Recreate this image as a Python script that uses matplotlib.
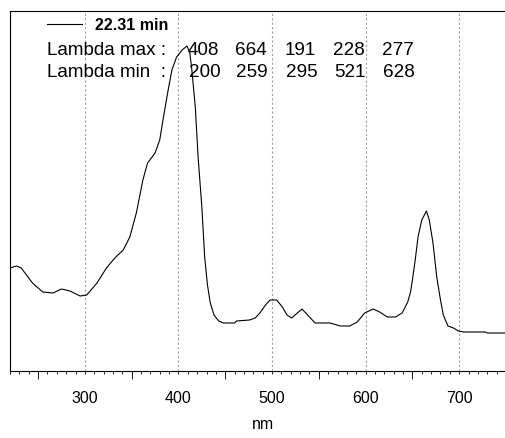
"""UV-Vis spectrum of the 22.31 min peak, drawn in the style of a DAD report."""
import matplotlib

matplotlib.use("Agg")
import matplotlib.pyplot as plt
import numpy as np

plt.rcParams["font.family"] = ["Liberation Sans", "DejaVu Sans"]

# spectrum (absorbance in arbitrary units)
wavelength = [220, 227, 232, 244, 255, 266, 275, 284, 295, 302, 313, 323, 332, 341, 348,
              355, 362, 367, 375, 380, 384, 389, 393, 398, 404, 409, 412, 414, 418, 421,
              425, 428, 431, 434, 438, 443, 448, 460, 462, 476, 482, 487, 493, 498, 505,
              511, 516, 521, 527, 532, 535, 541, 546, 562, 573, 583, 591, 599, 608, 615,
              623, 632, 639, 645, 648, 650, 653, 656, 660, 665, 668, 672, 676, 680, 683,
              688, 694, 699, 705, 728, 730, 750]
absorbance = [103, 105, 103, 88, 79, 78, 82, 80, 75, 76, 88, 103, 113, 121, 134,
              158, 191, 208, 218, 231, 254, 281, 301, 314, 321, 325, 319, 304, 264, 214,
              164, 114, 86, 68, 56, 50, 48, 48, 50, 51, 53, 58, 66, 71, 71,
              64, 56, 53, 58, 62, 59, 53, 48, 48, 45, 45, 49, 58, 62, 59,
              54, 54, 58, 69, 79, 91, 111, 134, 151, 160, 151, 128, 94, 71, 56,
              45, 43, 40, 39, 39, 38, 38]

retention_label = "22.31 min"
lambda_max = [408, 664, 191, 228, 277]
lambda_min = [200, 259, 295, 521, 628]
label_ticks = [300, 400, 500, 600, 700]
long_ticks = [250, 350, 450, 550, 650, 750]

W, H = 506, 438
fig = plt.figure(figsize=(W / 100, H / 100), dpi=100)
ax = fig.add_axes([10 / W, (H - 371) / H, 496 / W, 360 / H])

ax.plot(wavelength, absorbance, color="black", lw=0.8)
ax.set_xlim(220, 750)
ax.set_ylim(0, 360)

for s in ("left", "top", "bottom"):
    ax.spines[s].set_linewidth(0.8)
ax.spines["right"].set_visible(False)
ax.set_yticks([])

ax.set_xticks(label_ticks)
ax.set_xticks(np.arange(220, 751, 10), minor=True)
ax.tick_params(axis="x", which="both", length=2.5, width=0.6, pad=12, labelsize=11.5)
ax.grid(axis="x", which="major", color="#a0a0a0", lw=0.8, ls=(0, (2, 2)))

sec = ax.secondary_xaxis("bottom")
sec.set_xticks(long_ticks)
sec.set_xticklabels([])
sec.tick_params(length=5.5, width=0.6)
sec.spines["bottom"].set_visible(False)

ax.set_xlabel("nm", fontsize=11.5)
ax.xaxis.set_label_coords(0.51, -0.128)

# legend entry and lambda table, placed in pixel space of the figure
def px(x, y):
    return x / W, (H - y) / H

fig.add_artist(plt.Line2D([47 / W, 82 / W], [(H - 23.5) / H] * 2, color="black", lw=0.8))
fig.text(*px(95, 30), retention_label, fontsize=11.5, fontweight="bold", va="baseline")

fs = 13.6
cols = [188, 235, 285, 333, 382]
fig.text(*px(47, 55), "Lambda max :", fontsize=fs, va="baseline")
fig.text(*px(47, 77), "Lambda min  :", fontsize=fs, va="baseline")
for c, v in zip(cols, lambda_max):
    fig.text(*px(c, 55), str(v), fontsize=fs, va="baseline")
for c, v in zip(cols, lambda_min):
    fig.text(*px(c + 1, 77), str(v), fontsize=fs, va="baseline")

fig.savefig("out.png", dpi=100)
